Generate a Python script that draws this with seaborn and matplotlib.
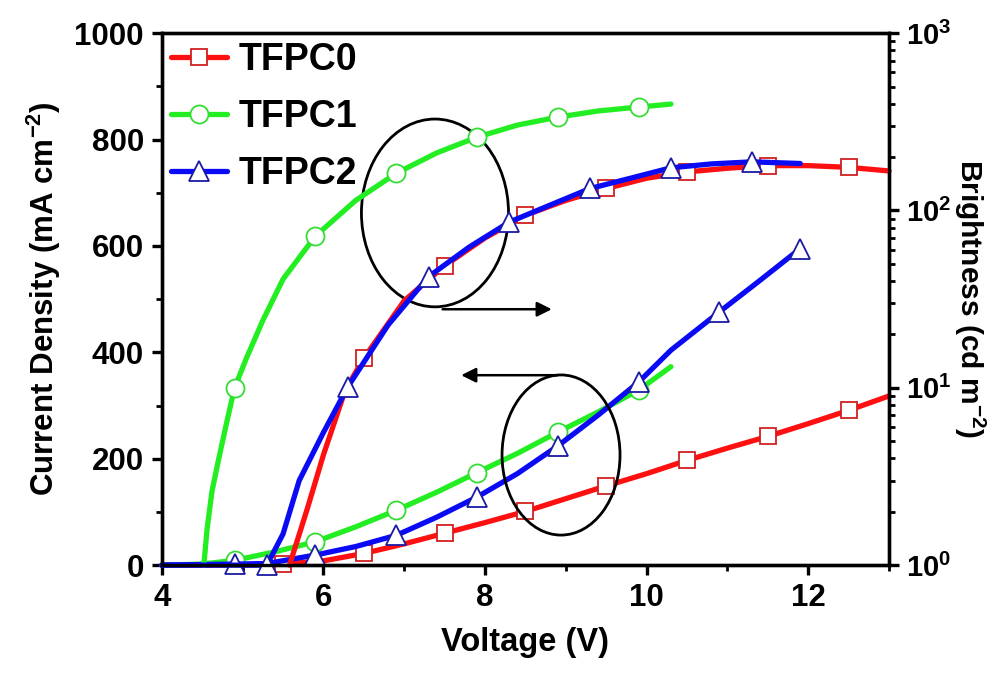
import numpy as np
import matplotlib
matplotlib.use("Agg")
import matplotlib.pyplot as plt
from matplotlib.patches import Ellipse
from matplotlib.ticker import FixedLocator, MultipleLocator, LogLocator, NullFormatter
import seaborn as sns

# ---------------- data ----------------
series_names = ["TFPC0", "TFPC1", "TFPC2"]

# current density (mA cm^-2), left axis
j0_v = [4.0, 5.0, 5.5, 6.0, 6.5, 7.0, 7.5, 8.0, 8.5, 9.0, 9.5, 10.0, 10.5, 11.0, 11.5, 12.0, 12.5, 13.0]
j0_y = [0, 0.5, 2, 8, 22, 40, 60, 80, 101, 125, 149, 172, 197, 220, 242, 266, 291, 318]
j0_mk = [5.5, 6.5, 7.5, 8.5, 9.5, 10.5, 11.5, 12.5]

j1_v = [4.0, 4.5, 4.9, 5.4, 5.9, 6.4, 6.9, 7.4, 7.9, 8.4, 8.9, 9.4, 9.9, 10.3]
j1_y = [0, 2, 9, 25, 44, 72, 103, 137, 174, 210, 250, 288, 329, 373]
j1_mk = [4.9, 5.9, 6.9, 7.9, 8.9, 9.9]

j2_v = [4.0, 4.9, 5.3, 5.9, 6.4, 6.9, 7.4, 7.9, 8.4, 8.9, 9.4, 9.9, 10.3, 10.9, 11.4, 11.9]
j2_y = [0, 2, 3, 19, 35, 56, 90, 128, 172, 224, 282, 344, 404, 476, 535, 595]
j2_mk = [4.9, 5.9, 6.9, 7.9, 8.9, 9.9, 10.9, 11.9]

# brightness (cd m^-2), right log axis
b0_v = [5.58, 5.8, 6.0, 6.27, 6.5, 7.0, 7.5, 8.0, 8.5, 9.0, 9.5, 10.0, 10.5, 11.0, 11.5, 12.0, 12.5, 13.0]
b0_y = [1, 2.08, 4.19, 9.7, 14.7, 31, 48.8, 70, 94, 114, 133, 152, 165, 173, 179, 179, 175, 167]
b0_mk = [6.5, 7.5, 8.5, 9.5, 10.5, 11.5, 12.5]

b1_v = [4.52, 4.56, 4.62, 4.7, 4.8, 4.9, 5.05, 5.25, 5.5, 5.9, 6.4, 6.9, 7.4, 7.9, 8.4, 8.9, 9.4, 9.9, 10.3]
b1_y = [1, 1.6, 2.6, 3.9, 6.3, 10, 14.8, 24, 41, 71.7, 114, 162, 211, 259, 303, 336, 364, 383, 398]
b1_mk = [4.9, 5.9, 6.9, 7.9, 8.9, 9.9]

b2_v = [4.0, 5.3, 5.5, 5.7, 6.0, 6.3, 6.8, 7.3, 7.8, 8.3, 8.8, 9.3, 9.8, 10.3, 10.8, 11.3, 11.9]
b2_y = [1, 1, 1.5, 3.0, 5.6, 10.1, 22.6, 42.3, 62, 86, 107, 133, 152, 174, 183, 188, 184]
b2_mk = [5.3, 6.3, 7.3, 8.3, 9.3, 10.3, 11.3]

x_ticks = [4, 6, 8, 10, 12]
y_ticks = [0, 200, 400, 600, 800, 1000]
log_ticks = [1, 10, 100, 1000]
log_labels = [r"$\mathbf{10^{0}}$", r"$\mathbf{10^{1}}$", r"$\mathbf{10^{2}}$", r"$\mathbf{10^{3}}$"]

# ---------------- style ----------------
sns.set_style("ticks")
plt.rcParams["font.family"] = ["Liberation Sans", "DejaVu Sans"]
plt.rcParams["font.weight"] = "bold"
plt.rcParams["mathtext.fontset"] = "custom"
plt.rcParams["mathtext.rm"] = "Liberation Sans:bold"
plt.rcParams["mathtext.bf"] = "Liberation Sans:bold"
plt.rcParams["mathtext.it"] = "Liberation Sans:bold"
for k in ("text.color", "axes.labelcolor", "xtick.color", "ytick.color", "axes.edgecolor"):
    plt.rcParams[k] = "black"

line_colors = ["#ff1010", "#22ee22", "#0a0af5"]
edge_colors = ["#d02020", "#33dd33", "#1a1aa5"]
markers = ["s", "o", "^"]
msizes = [12, 13, 15]

fig = plt.figure(figsize=(9.99, 6.76), dpi=100)
ax = fig.add_axes([0.162, 0.164, 0.728, 0.787])
ax2 = ax.twinx()

def draw(axis, v, y, mk, i, label=None):
    v = np.asarray(v, float)
    mask = np.isin(np.round(v, 2), np.round(mk, 2))
    sns.lineplot(x=v, y=y, ax=axis, sort=False, estimator=None,
                 color=line_colors[i], lw=3.8, marker=markers[i],
                 markevery=list(mask), markersize=msizes[i],
                 markerfacecolor="white", markeredgecolor=edge_colors[i],
                 markeredgewidth=1.3, clip_on=False, label=label, legend=False)

draw(ax, j0_v, j0_y, j0_mk, 0, series_names[0])
draw(ax, j1_v, j1_y, j1_mk, 1, series_names[1])
draw(ax, j2_v, j2_y, j2_mk, 2, series_names[2])
draw(ax2, b0_v, b0_y, b0_mk, 0)
draw(ax2, b1_v, b1_y, b1_mk, 1)
draw(ax2, b2_v, b2_y, b2_mk, 2)

ax.set_xlim(4, 13)
ax.set_ylim(0, 1000)
ax2.set_yscale("log")
ax2.set_ylim(1, 1000)

ax.xaxis.set_major_locator(FixedLocator(x_ticks))
ax.xaxis.set_minor_locator(MultipleLocator(1))
ax.yaxis.set_major_locator(FixedLocator(y_ticks))
ax.yaxis.set_minor_locator(MultipleLocator(100))
ax.set_xticklabels([str(t) for t in x_ticks])
ax.set_yticklabels([str(t) for t in y_ticks])
ax2.yaxis.set_major_locator(FixedLocator(log_ticks))
ax2.set_yticklabels(log_labels)
ax2.yaxis.set_minor_locator(LogLocator(base=10, subs=np.arange(2, 10)))
ax2.yaxis.set_minor_formatter(NullFormatter())

for a in (ax, ax2):
    for s in a.spines.values():
        s.set_linewidth(2.4)
        s.set_color("black")
    a.tick_params(which="major", direction="out", length=7, width=2.4,
                  labelsize=22.5, pad=6, colors="black")
    a.tick_params(which="minor", direction="out", length=4, width=2.0, colors="black")
ax.tick_params(axis="y", which="both", right=False)
ax.tick_params(axis="x", which="both", top=False)
ax2.tick_params(axis="y", which="both", left=False, right=True)
ax2.tick_params(axis="y", which="major", labelsize=21, pad=5)
for lab in ax.get_xticklabels() + ax.get_yticklabels() + ax2.get_yticklabels():
    lab.set_fontweight("bold")

ax.set_xlabel("Voltage (V)", fontsize=23.5, fontweight="bold", labelpad=10, color="black")
ax.set_ylabel(r"Current Density (mA cm$^{-2}$)", fontsize=22.5, fontweight="bold",
              labelpad=8, color="black")
ax2.set_ylabel(r"Brightness (cd m$^{-2}$)", fontsize=21.5, fontweight="bold",
               rotation=270, labelpad=26, color="black")

# annotations: ellipses with arrows
ax.add_patch(Ellipse((7.38, 662), 1.82, 353, fill=False, lw=2, ec="black", zorder=5))
ax.add_patch(Ellipse((8.94, 207), 1.46, 301, fill=False, lw=2, ec="black", zorder=5))
ax.annotate("", xy=(8.86, 481), xytext=(7.44, 481),
            arrowprops=dict(arrowstyle="-|>", lw=1.8, color="black", mutation_scale=22))
ax.annotate("", xy=(7.67, 357), xytext=(8.93, 357),
            arrowprops=dict(arrowstyle="-|>", lw=1.8, color="black", mutation_scale=22))

leg = ax2.legend(handles=ax.get_lines()[:3], labels=series_names, loc="upper left",
                 frameon=False, handlelength=1.5, handletextpad=0.3,
                 labelspacing=0.55, borderaxespad=0.05, borderpad=0.2,
                 prop={"weight": "bold", "size": 27})
for t in leg.get_texts():
    t.set_color("black")

fig.savefig("out.png", dpi=100)
